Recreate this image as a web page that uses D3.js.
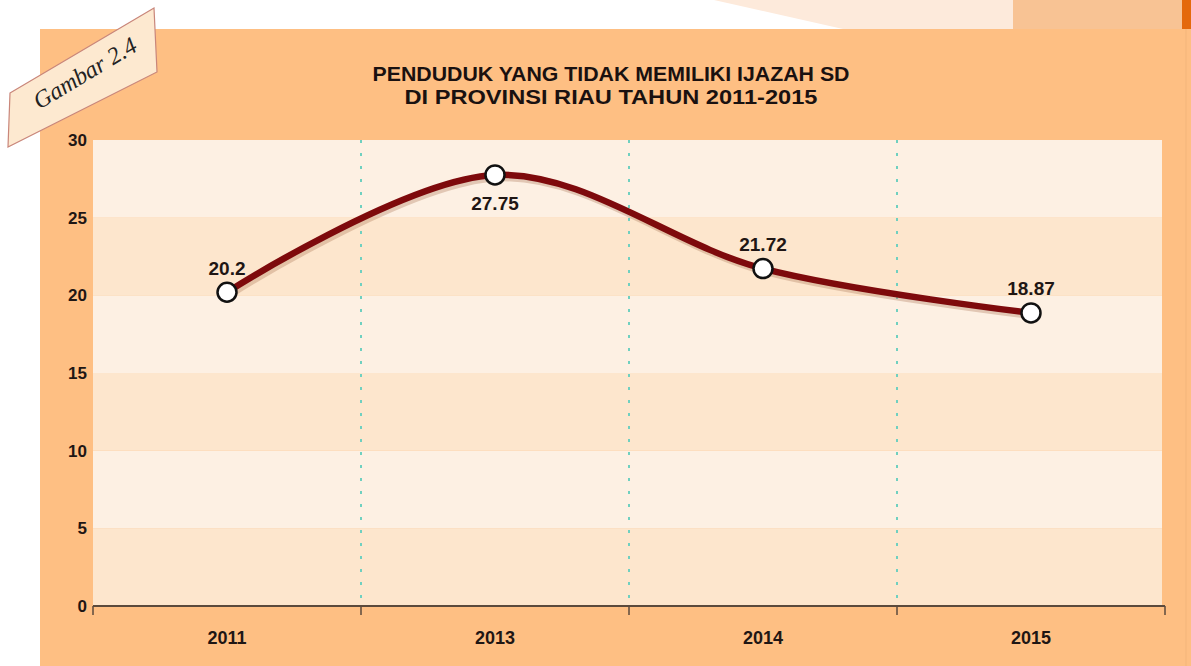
<!DOCTYPE html>
<html>
<head>
<meta charset="utf-8">
<script src="https://cdn.jsdelivr.net/npm/d3@7"></script>
<style>
  body { margin: 0; background: #ffffff; }
  svg { display: block; }
</style>
</head>
<body>
<div class="chart"></div>
<script>
"use strict";

var years = ["2011", "2013", "2014", "2015"];
var values = [20.2, 27.75, 21.72, 18.87];
var yTicks = [0, 5, 10, 15, 20, 25, 30];
var titleLines = ["PENDUDUK YANG TIDAK MEMILIKI IJAZAH SD", "DI PROVINSI RIAU TAHUN 2011-2015"];
var tagText = "Gambar 2.4";

var width = 1191,
    height = 666;
var sans = "'Liberation Sans', Arial, sans-serif";

var svg = d3.select(".chart")
          .append("svg")
          .attr("width", width)
          .attr("height", height)
          .style("font-family", sans);

// page decoration at the top
svg.append("polygon")
    .attr("points", "714,0 843,29 1013,29 1013,0")
    .attr("fill", "#fdeadb");
svg.append("rect")
    .attr("x", 1013).attr("y", 0).attr("width", 170).attr("height", 29)
    .attr("fill", "#f8c394");
svg.append("rect")
    .attr("x", 1182).attr("y", 0).attr("width", 9).attr("height", 29)
    .attr("fill", "#e4690c");

// orange panel
svg.append("rect")
    .attr("x", 40).attr("y", 29).attr("width", width - 40).attr("height", height - 29)
    .attr("fill", "#febf83");
svg.append("line")
    .attr("x1", 1186).attr("x2", 1186).attr("y1", 29).attr("y2", height)
    .attr("stroke", "#f3b57a").attr("stroke-width", 1);

var margin = {left: 93, right: 1165, top: 140, bottom: 606};

var x = d3.scaleBand()
    .domain(years)
    .range([margin.left, margin.right]);

var y = d3.scaleLinear()
    .domain([0, 30])
    .range([margin.bottom, margin.top]);

// alternating bands
var bands = svg.append("g");
bands.selectAll("rect")
    .data(d3.range(0, 30, 5))
    .enter().append("rect")
        .attr("x", margin.left)
        .attr("width", 1162 - margin.left)
        .attr("y", function(d){ return y(d + 5); })
        .attr("height", function(d){ return y(d) - y(d + 5); })
        .attr("fill", function(d, i){ return i % 2 === 0 ? "#fde6cd" : "#fdf0e3"; });

// dotted vertical separators
svg.append("g")
    .selectAll("line")
    .data(years.slice(1))
    .enter().append("line")
        .attr("x1", function(d){ return x(d); })
        .attr("x2", function(d){ return x(d); })
        .attr("y1", margin.top)
        .attr("y2", margin.bottom)
        .attr("stroke", "#6fd0c0")
        .attr("stroke-width", 2)
        .attr("stroke-dasharray", "3,10");

// title
svg.append("g")
    .selectAll("text")
    .data(titleLines)
    .enter().append("text")
        .attr("x", 611)
        .attr("y", function(d, i){ return 81 + i * 23; })
        .attr("text-anchor", "middle")
        .attr("font-size", "20px")
        .attr("font-weight", "bold")
        .attr("fill", "#1a1110")
        .attr("textLength", function(d, i){ return i === 0 ? 477 : 413; })
        .attr("lengthAdjust", "spacingAndGlyphs")
        .text(function(d){ return d; });

// y axis labels
svg.append("g")
    .selectAll("text")
    .data(yTicks)
    .enter().append("text")
        .attr("x", 87)
        .attr("y", function(d){ return y(d); })
        .attr("dy", "0.35em")
        .attr("text-anchor", "end")
        .attr("font-size", "17px")
        .attr("font-weight", "bold")
        .attr("fill", "#1f1614")
        .text(function(d){ return d; });

// x axis
var xAxis = svg.append("g")
    .attr("transform", "translate(0," + margin.bottom + ")");
xAxis.append("line")
    .attr("x1", margin.left).attr("x2", margin.right)
    .attr("stroke", "#5b4a3c").attr("stroke-width", 2);
xAxis.selectAll(".tick")
    .data(years.map(function(d){ return x(d); }).concat([margin.right]))
    .enter().append("line")
        .attr("class", "tick")
        .attr("x1", function(d){ return d; })
        .attr("x2", function(d){ return d; })
        .attr("y1", 0).attr("y2", 9)
        .attr("stroke", "#5b4a3c").attr("stroke-width", 1.5);
xAxis.selectAll("text")
    .data(years)
    .enter().append("text")
        .attr("x", function(d){ return x(d) + x.bandwidth() / 2; })
        .attr("y", 38)
        .attr("text-anchor", "middle")
        .attr("font-size", "18px")
        .attr("font-weight", "bold")
        .attr("fill", "#1f1614")
        .text(function(d){ return d; });

// smoothed line
var pts = years.map(function(d, i){ return [x(d) + x.bandwidth() / 2, y(values[i])]; });
var line = d3.line().curve(d3.curveCardinal.tension(0));

svg.append("path")
    .attr("d", line(pts))
    .attr("transform", "translate(2,3)")
    .attr("fill", "none")
    .attr("stroke", "#b07a5c")
    .attr("stroke-opacity", 0.35)
    .attr("stroke-width", 7);
svg.append("path")
    .attr("d", line(pts))
    .attr("fill", "none")
    .attr("stroke", "#7e0a0c")
    .attr("stroke-width", 6.5);

// markers
svg.append("g")
    .selectAll("circle")
    .data(pts)
    .enter().append("circle")
        .attr("cx", function(d){ return d[0]; })
        .attr("cy", function(d){ return d[1]; })
        .attr("r", 9.5)
        .attr("fill", "#ffffff")
        .attr("stroke", "#111111")
        .attr("stroke-width", 2.5);

// value labels
var labelDy = [-17, 35, -18, -18];
svg.append("g")
    .selectAll("text")
    .data(values)
    .enter().append("text")
        .attr("x", function(d, i){ return pts[i][0]; })
        .attr("y", function(d, i){ return pts[i][1] + labelDy[i]; })
        .attr("text-anchor", "middle")
        .attr("font-size", "19px")
        .attr("font-weight", "bold")
        .attr("fill", "#1f1614")
        .text(function(d){ return d; });

// "Gambar 2.4" tag
var tag = svg.append("g");
tag.append("polygon")
    .attr("points", "10,93 154,8 157,72 8,147")
    .attr("fill", "#fde9d0")
    .attr("stroke", "#c9867a")
    .attr("stroke-width", 1.2);
tag.append("text")
    .attr("transform", "translate(89,80) rotate(-31)")
    .attr("text-anchor", "middle")
    .style("font-family", "'Liberation Serif', 'DejaVu Serif', serif")
    .attr("font-style", "italic")
    .attr("font-size", "24px")
    .attr("fill", "#222222")
    .text(tagText);
</script>
</body>
</html>
